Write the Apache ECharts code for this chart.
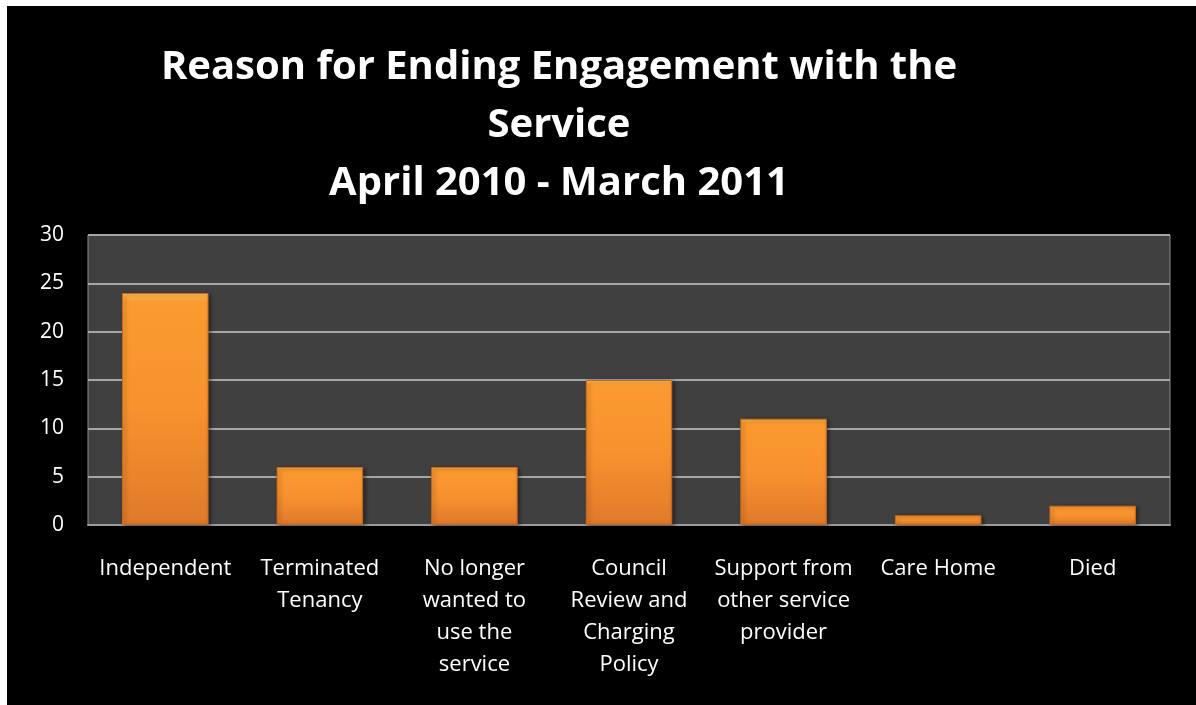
<!DOCTYPE html>
<html>
<head>
<meta charset="utf-8">
<script src="https://cdn.jsdelivr.net/npm/echarts@6/dist/echarts.min.js"></script>
<style>
  html, body { margin: 0; padding: 0; background: #ffffff; }
  #chart { position: absolute; left: 7px; top: 6px; width: 1189px; height: 699px; background: #000000; }
</style>
</head>
<body>
<div id="chart"></div>
<script>
const categories = [
  'Independent',
  'Terminated\nTenancy',
  'No longer\nwanted to\nuse the\nservice',
  'Council\nReview and\nCharging\nPolicy',
  'Support from\nother service\nprovider',
  'Care Home',
  'Died'
];
const counts = [24, 6, 6, 15, 11, 1, 2];
const yTicks = { min: 0, max: 30, interval: 5 };
const titleText = 'Reason for Ending Engagement with the\nService\nApril 2010 - March 2011';

const chart = echarts.init(document.getElementById('chart'));
const fontFamily = '"Open Sans", "Noto Sans", sans-serif';

chart.setOption({
  backgroundColor: '#000000',
  animation: false,
  title: {
    text: titleText,
    left: 547,
    textAlign: 'center',
    top: 28,
    textStyle: {
      color: '#ffffff',
      fontFamily: fontFamily,
      fontWeight: 'bold',
      fontSize: 40,
      lineHeight: 58
    }
  },
  grid: {
    left: 81,
    top: 229,
    right: 26,
    bottom: 180,
    show: true,
    backgroundColor: '#404040',
    borderColor: '#8c8c8c',
    borderWidth: 1
  },
  xAxis: {
    type: 'category',
    data: categories,
    axisLine: { show: true, lineStyle: { color: '#9a9a9a', width: 2 } },
    axisTick: { show: false },
    axisLabel: {
      color: '#ffffff',
      fontFamily: fontFamily,
      fontSize: 22,
      lineHeight: 32,
      margin: 28,
      interval: 0
    }
  },
  yAxis: {
    type: 'value',
    min: yTicks.min,
    max: yTicks.max,
    interval: yTicks.interval,
    axisLine: { show: false },
    axisTick: { show: false },
    axisLabel: {
      color: '#ffffff',
      fontFamily: fontFamily,
      fontSize: 21,
      margin: 24
    },
    splitLine: { show: true, lineStyle: { color: '#a6a6a6', width: 2 } }
  },
  series: [{
    type: 'bar',
    data: counts,
    barCategoryGap: '44%',
    itemStyle: {
      color: {
        type: 'linear', x: 0, y: 0, x2: 0, y2: 1,
        colorStops: [
          { offset: 0, color: '#ffc35a' },
          { offset: 0.015, color: '#fdae45' },
          { offset: 0.04, color: '#fb9a30' },
          { offset: 0.5, color: '#f7922e' },
          { offset: 1, color: '#e0792a' }
        ]
      },
      borderColor: '#c8661c',
      borderWidth: 1,
      shadowColor: 'rgba(0,0,0,0.45)',
      shadowBlur: 4,
      shadowOffsetX: 2,
      shadowOffsetY: 1
    }
  }]
});
</script>
</body>
</html>
